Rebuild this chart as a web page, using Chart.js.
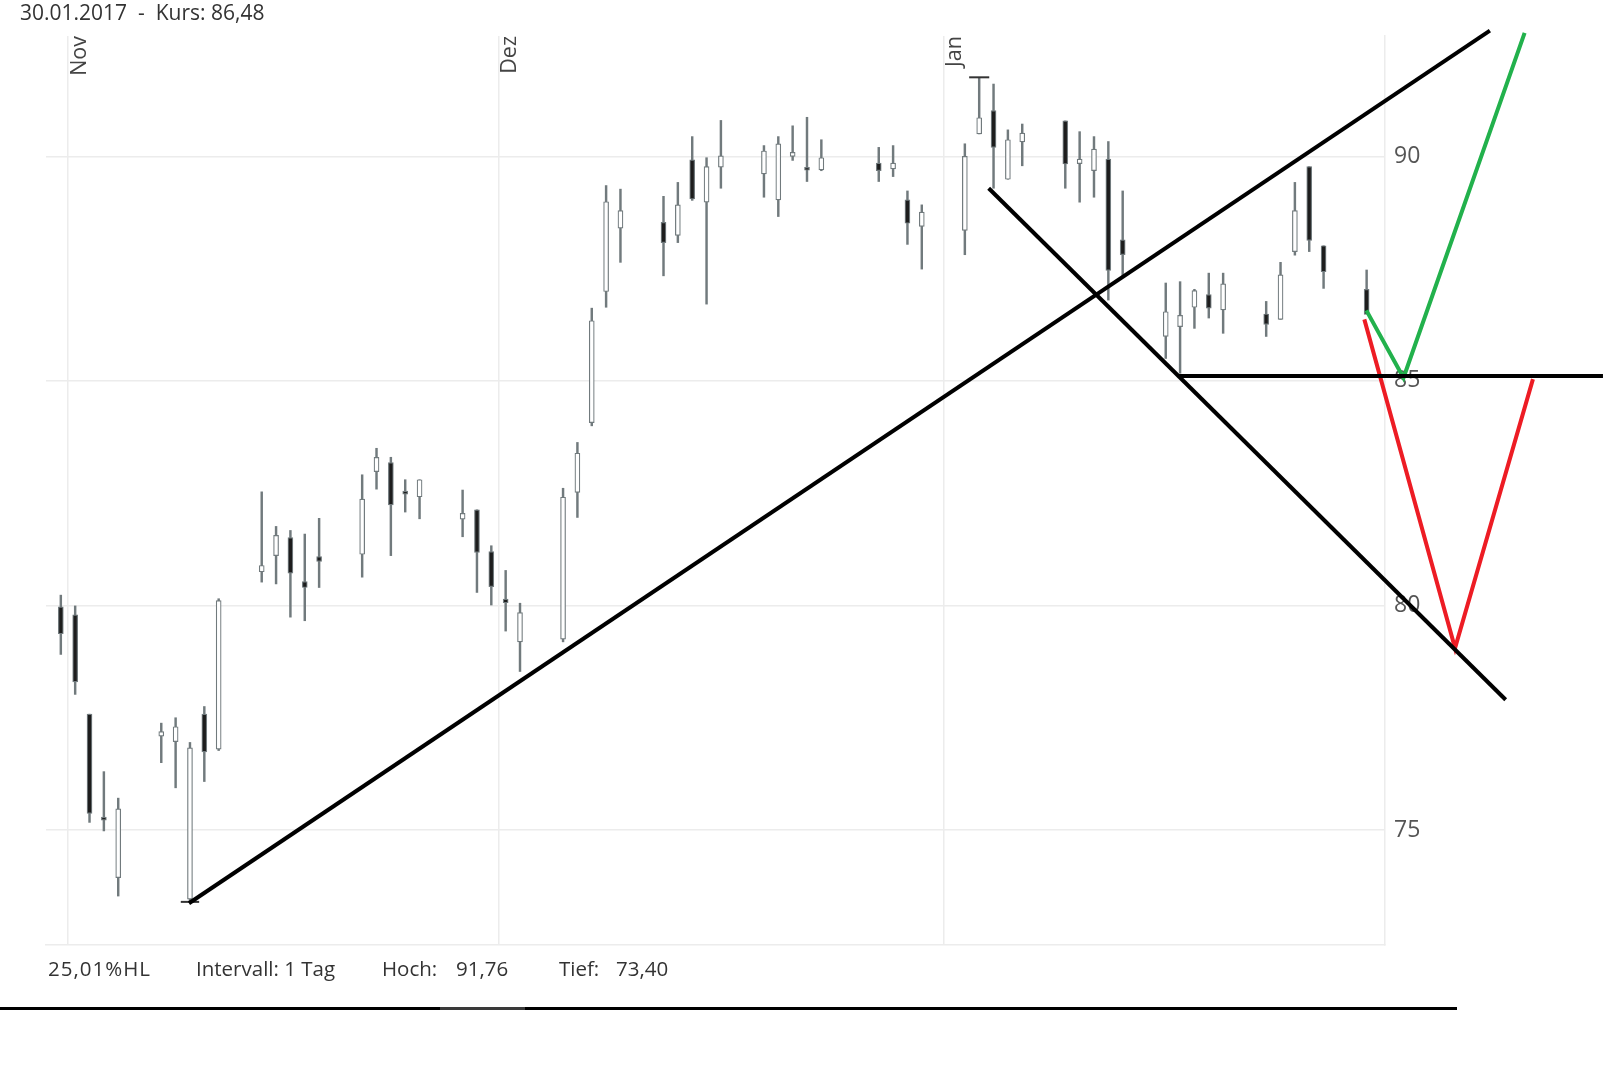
<!DOCTYPE html>
<html>
<head>
<meta charset="utf-8">
<script src="https://cdn.jsdelivr.net/npm/chart.js@4.4.0/dist/chart.umd.min.js"></script>
<style>
  body { margin: 0; background: #fff; }
  #wrap { position: relative; width: 1611px; height: 1067px; font-family: 'Open Sans', sans-serif; }
  #wrap canvas { position: absolute; left: 0; top: 0; }
  .txt { position: absolute; white-space: pre; color: #333; line-height: 24px; }
  .foot { top: 956px; font-size: 20.5px; }
  #baseLine { position: absolute; left: 0; top: 1007px; width: 1457px; height: 3px;
    background: linear-gradient(to right, #000 0, #000 440px, #3a3a3a 440px, #3a3a3a 525px, #000 525px); }
</style>
</head>
<body>
<div id="wrap">
  <canvas id="kursChart" width="1611" height="1067"></canvas>
  <div class="txt" style="left:20px; top:0; font-size:21px;">30.01.2017  -  Kurs: 86,48</div>
  <div class="txt foot" style="left:48px; letter-spacing:1px;">25,01%HL</div>
  <div class="txt foot" style="left:196px;">Intervall: 1 Tag</div>
  <div class="txt foot" style="left:382px;">Hoch:</div>
  <div class="txt foot" style="left:456px;">91,76</div>
  <div class="txt foot" style="left:559px;">Tief:</div>
  <div class="txt foot" style="left:616px;">73,40</div>
  <div id="baseLine"></div>
</div>

<script>
// daily candles
const dates = [
  '2016-10-31',
  '2016-11-01','2016-11-02','2016-11-03','2016-11-04',
  '2016-11-07','2016-11-08','2016-11-09','2016-11-10','2016-11-11',
  '2016-11-14','2016-11-15','2016-11-16','2016-11-17','2016-11-18',
  '2016-11-21','2016-11-22','2016-11-23','2016-11-24','2016-11-25',
  '2016-11-28','2016-11-29','2016-11-30','2016-12-01','2016-12-02',
  '2016-12-05','2016-12-06','2016-12-07','2016-12-08','2016-12-09',
  '2016-12-12','2016-12-13','2016-12-14','2016-12-15','2016-12-16',
  '2016-12-19','2016-12-20','2016-12-21','2016-12-22','2016-12-23',
  '2016-12-27','2016-12-28','2016-12-29','2016-12-30',
  '2017-01-02','2017-01-03','2017-01-04','2017-01-05','2017-01-06',
  '2017-01-09','2017-01-10','2017-01-11','2017-01-12','2017-01-13',
  '2017-01-16','2017-01-17','2017-01-18','2017-01-19','2017-01-20',
  '2017-01-23','2017-01-24','2017-01-25','2017-01-26','2017-01-27',
  '2017-01-30'
];
const open = [
  79.97,
  79.79, 77.58, 75.28, 73.94,
  77.09, 76.97, 73.46, 77.58, 76.80,
  80.75, 81.11, 81.51, 80.53, 81.09,
  81.14, 82.98, 83.18, 82.52, 82.42,
  81.92, 82.13, 81.20, 80.14, 79.19,
  79.25, 82.52, 84.07, 86.99, 88.40,
  88.53, 88.24, 89.92, 88.98, 89.76,
  89.61, 89.03, 90.00, 89.73, 89.70,
  89.85, 89.72, 89.03, 88.44,
  88.35, 90.50, 91.02, 89.49, 90.32,
  90.79, 89.84, 89.68, 89.94, 88.14,
  85.99, 86.21, 86.64, 86.92, 86.58,
  86.49, 86.37, 87.88, 89.77, 88.01,
  87.04
];
const high = [
  80.23,
  79.99, 77.58, 76.30, 75.71,
  77.38, 77.50, 76.95, 77.75, 80.15,
  82.53, 81.76, 81.67, 81.59, 81.94,
  82.91, 83.50, 83.30, 82.80, 82.80,
  82.57, 82.13, 81.33, 80.78, 80.05,
  82.61, 83.63, 86.62, 89.35, 89.27,
  89.11, 89.42, 90.44, 89.97, 90.80,
  90.24, 90.44, 90.68, 90.87, 90.37,
  90.20, 90.24, 89.23, 88.92,
  90.28, 91.76, 91.61, 90.59, 90.72,
  90.79, 90.55, 90.44, 90.33, 89.23,
  87.18, 87.21, 87.04, 87.40, 87.40,
  86.77, 87.64, 89.42, 89.77, 88.01,
  87.47
];
const low = [
  78.91,
  78.02, 75.17, 74.98, 73.53,
  76.50, 75.94, 73.40, 76.08, 76.77,
  80.52, 80.48, 79.74, 79.66, 80.40,
  80.63, 82.59, 81.11, 82.08, 81.93,
  81.53, 80.29, 80.01, 79.43, 78.53,
  79.19, 81.96, 84.00, 86.64, 87.64,
  87.34, 88.08, 89.02, 86.71, 89.29,
  89.09, 88.66, 89.91, 89.44, 89.68,
  89.44, 89.55, 88.04, 87.49,
  87.81, 90.50, 89.29, 89.49, 89.79,
  89.29, 88.98, 89.09, 86.80, 87.32,
  85.50, 85.17, 86.17, 86.40, 86.06,
  85.99, 86.37, 87.80, 87.88, 87.06,
  86.52
];
const close = [
  79.37,
  78.30, 75.37, 75.22, 75.47,
  77.19, 77.30, 76.83, 76.74, 80.11,
  80.89, 81.56, 80.72, 80.40, 80.98,
  82.37, 83.30, 82.24, 82.48, 82.80,
  82.05, 81.18, 80.42, 80.06, 79.84,
  82.41, 83.39, 86.34, 88.99, 88.79,
  88.08, 88.92, 89.05, 89.77, 90.01,
  90.12, 90.28, 90.09, 89.69, 89.97,
  89.68, 89.85, 88.51, 88.76,
  90.00, 90.86, 90.20, 90.37, 90.52,
  89.83, 89.94, 90.16, 87.46, 87.81,
  86.54, 86.46, 87.01, 86.62, 87.16,
  86.26, 87.36, 88.79, 88.13, 87.43,
  86.48
];

// axis: x counted in days from 1 Nov 2016
const monthTicks = [0, 30, 61];
const monthNames = ['Nov', 'Dez', 'Jan'];
const priceTicks = [75, 80, 85, 90];
const xRange = [-1.533, 91.78];
const yRange = [72.44, 92.68];

// drawn-in lines, [day, price]
const trendUp = [[8.43, 73.37], [99.09, 92.80]];
const trendDown = [[64.16, 89.29], [100.19, 77.90]];
const support = [[77.35, 85.11], [106.97, 85.11]];
const greenPath = [[90.48, 86.57], [93.07, 85.07], [101.51, 92.75]];
const redPath = [[90.34, 86.37], [96.66, 79.05], [102.09, 85.04]];
const lowMark = [[7.86, 73.40], [9.14, 73.40]];
const highMark = [[62.8, 91.76], [64.2, 91.76]];

function dayOf(s) {
  const [y, m, d] = s.split('-').map(Number);
  return Math.round((Date.UTC(y, m - 1, d) - Date.UTC(2016, 10, 1)) / 86400000);
}

const xs = dates.map(d => dayOf(d) + 0.5);
const wickData = xs.map((x, i) => ({x: x, y: [low[i], high[i]]}));
const bodyData = xs.map((x, i) => ({x: x, y: [Math.min(open[i], close[i]), Math.max(open[i], close[i])]}));
const bodyFill = close.map((c, i) => c < open[i] ? '#1d1d1d' : '#ffffff');

const candleGray = '#717a7d';
const gridGray = '#ececec';

function pts(arr) { return arr.map(p => ({x: p[0], y: p[1]})); }
function drawLine(arr, color, width) {
  return {
    type: 'line',
    data: pts(arr),
    borderColor: color,
    borderWidth: width,
    pointRadius: 0,
    fill: false,
    tension: 0,
    clip: false,
    order: 0
  };
}

// month names stand upright next to their grid line
const monthLabels = {
  id: 'monthLabels',
  beforeDatasetsDraw(chart) {
    const {ctx, chartArea, scales: {x}} = chart;
    ctx.save();
    ctx.font = '21.5px "Open Sans"';
    ctx.fillStyle = '#444';
    ctx.textAlign = 'right';
    ctx.textBaseline = 'alphabetic';
    monthTicks.forEach((t, i) => {
      ctx.save();
      ctx.translate(x.getPixelForValue(t) + 18, chartArea.top);
      ctx.rotate(-Math.PI / 2);
      ctx.fillText(monthNames[i], 0, 0);
      ctx.restore();
    });
    ctx.restore();
  }
};

Chart.defaults.font.family = "'Open Sans', sans-serif";

new Chart(document.getElementById('kursChart'), {
  type: 'bar',
  data: {
    datasets: [
      drawLine(trendUp, '#000', 4),
      drawLine(trendDown, '#000', 4),
      drawLine(support, '#000', 4),
      drawLine(greenPath, '#22b14c', 4),
      drawLine(redPath, '#ed1c24', 4),
      drawLine(lowMark, '#333', 2),
      drawLine(highMark, '#333', 2),
      {
        data: bodyData,
        backgroundColor: bodyFill,
        borderColor: candleGray,
        borderWidth: 1.2,
        borderSkipped: false,
        barThickness: 5,
        minBarLength: 3,
        grouped: false,
        order: 2
      },
      {
        data: wickData,
        backgroundColor: candleGray,
        borderWidth: 0,
        barThickness: 1.8,
        grouped: false,
        order: 3
      }
    ]
  },
  options: {
    responsive: false,
    animation: false,
    devicePixelRatio: 1,
    layout: { padding: { left: 46, top: 36, right: 0, bottom: 122 } },
    plugins: { legend: { display: false }, tooltip: { enabled: false } },
    scales: {
      x: {
        type: 'linear',
        offset: false,
        bounds: 'data',
        afterDataLimits: s => { s.min = xRange[0]; s.max = xRange[1]; },
        afterBuildTicks: s => { s.ticks = monthTicks.map(v => ({value: v})); },
        afterFit: s => { s.height = 0; },
        ticks: { display: false },
        grid: { color: gridGray, lineWidth: 1.5, drawTicks: false, offset: false },
        border: { color: gridGray, width: 1.5 }
      },
      y: {
        type: 'linear',
        position: 'right',
        bounds: 'data',
        beginAtZero: false,
        afterDataLimits: s => { s.min = yRange[0]; s.max = yRange[1]; },
        afterBuildTicks: s => { s.ticks = priceTicks.map(v => ({value: v})); },
        afterFit: s => { s.width = 226; },
        ticks: { padding: 9, color: '#555', font: { size: 23 } },
        grid: { color: gridGray, lineWidth: 1.5, drawTicks: false },
        border: { color: gridGray, width: 1.5 }
      }
    }
  },
  plugins: [monthLabels]
});
</script>
</body>
</html>
